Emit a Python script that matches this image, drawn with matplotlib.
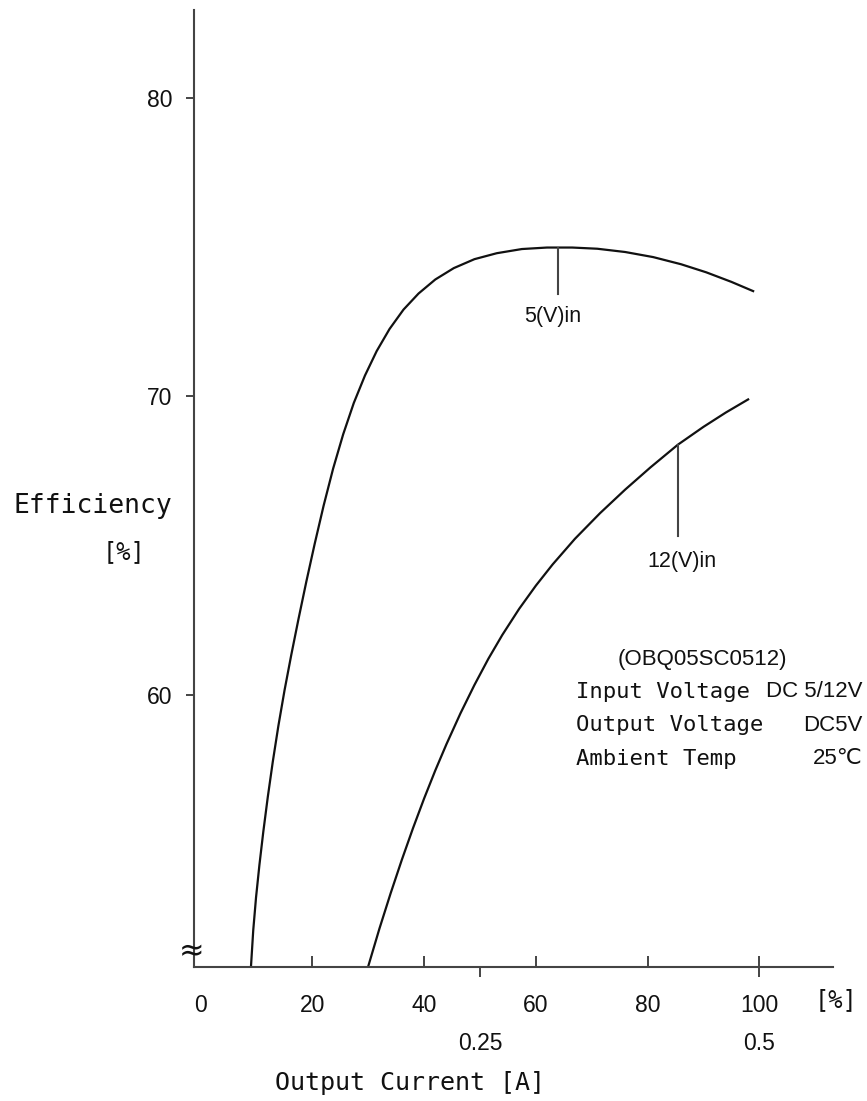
import numpy as np
import matplotlib
matplotlib.use("Agg")
import matplotlib.pyplot as plt
from matplotlib import font_manager

# efficiency curves (x = % of rated output current)
load_5v = [9.0, 9.4, 9.9, 10.5, 11.2, 12.0, 12.9, 13.9, 15.0, 16.2, 17.5, 18.9, 20.4,
           22.0, 23.7, 25.5, 27.4, 29.4, 31.5, 33.8, 36.3, 39.0, 42.0, 45.3, 49.0,
           53.0, 57.5, 62.0, 66.5, 71.0, 76.0, 81.0, 86.0, 90.5, 95.0, 98.9]
eff_5v = [50.9, 52.1, 53.2, 54.28, 55.4, 56.56, 57.75, 58.95, 60.14, 61.32, 62.53,
          63.78, 65.05, 66.33, 67.57, 68.72, 69.77, 70.69, 71.51, 72.25, 72.9, 73.44,
          73.91, 74.29, 74.59, 74.79, 74.93, 74.98, 74.98, 74.94, 74.83, 74.66,
          74.42, 74.15, 73.83, 73.52]

load_12v = [30.0, 32.0, 34.0, 36.0, 38.0, 40.0, 42.0, 44.0, 46.5, 49.0, 51.5, 54.0,
            57.0, 60.0, 63.0, 67.0, 71.5, 76.0, 80.5, 85.4, 90.0, 94.0, 98.0]
eff_12v = [50.9, 52.16, 53.34, 54.46, 55.52, 56.52, 57.46, 58.34, 59.37, 60.32, 61.2,
           62.0, 62.87, 63.65, 64.36, 65.22, 66.08, 66.87, 67.61, 68.37, 68.97,
           69.45, 69.89]

pct_ticks = [0, 20, 40, 60, 80, 100]
amp_ticks = [50, 100]
amp_labels = ["0.25", "0.5"]
eff_ticks = [60, 70, 80]

curve_names = ["5(V)in", "12(V)in"]
marker_x = [64.0, 85.4]

spec_lines = [("Input Voltage", "DC 5/12V"),
              ("Output Voltage", "DC5V"),
              ("Ambient Temp", "25\u2103")]

names = {f.name for f in font_manager.fontManager.ttflist}
NUM_FONT = "Liberation Sans Narrow" if "Liberation Sans Narrow" in names else "Liberation Sans"
num_size = 18 if NUM_FONT.endswith("Narrow") else 16.5
MONO = ["DejaVu Sans Mono", "DejaVu Sans"]
plt.rcParams["font.family"] = [NUM_FONT, "DejaVu Sans"]

ink = "#111111"
axc = "#444444"

fig = plt.figure(figsize=(8.67, 11.01), dpi=100)
ax = fig.add_axes([0.2238, 0.1220, 0.737, 0.8689])

ax.plot(load_5v, eff_5v, color=ink, lw=1.6)
ax.plot(load_12v, eff_12v, color=ink, lw=1.6)

ax.set_xlim(-1.2, 113.2)
ax.set_ylim(50.88, 82.94)

for s in ["top", "right"]:
    ax.spines[s].set_visible(False)
for s in ["left", "bottom"]:
    ax.spines[s].set_color(axc)
    ax.spines[s].set_linewidth(1.5)

ax.set_yticks(eff_ticks)
ax.set_yticklabels([str(v) for v in eff_ticks])
ax.tick_params(axis="y", direction="out", length=5.8, width=1.4, color=axc,
               pad=10, labelsize=num_size, labelcolor=ink)

# percent scale (major) and ampere scale (minor) share the bottom axis
ax.xaxis.remove_overlapping_locs = False
ax.set_xticks(pct_ticks)
ax.set_xticklabels([str(v) for v in pct_ticks])
ax.tick_params(axis="x", which="major", direction="in", length=7.7, width=1.4,
               color=axc, pad=20, labelsize=num_size, labelcolor=ink)
ax.xaxis.get_major_ticks()[0].tick1line.set_visible(False)

ax.set_xticks(amp_ticks, minor=True)
ax.set_xticklabels(amp_labels, minor=True)
ax.tick_params(axis="x", which="minor", direction="out", length=7.2, width=1.4,
               color=axc, pad=40, labelsize=num_size, labelcolor=ink)

# axis break mark
ax.text(-1.6, 51.4, "\u2248", fontsize=22, family="DejaVu Sans", color=ink,
        ha="center", va="center", clip_on=False)

# curve labels with leader lines
drops = [1.55, 3.05]
for mx, xs, ys, d in zip(marker_x, [load_5v, load_12v], [eff_5v, eff_12v], drops):
    top = np.interp(mx, xs, ys)
    ax.plot([mx, mx], [top, top - d], color=axc, lw=1.5)
ax.text(63.0, 72.66, curve_names[0], fontsize=num_size - 1, ha="center", va="center", color=ink)
ax.text(86.1, 64.45, curve_names[1], fontsize=num_size - 1, ha="center", va="center", color=ink)

# spec block
ax.text(89.8, 61.17, "(OBQ05SC0512)", fontsize=num_size - 0.5, ha="center", va="center", color=ink)
for i, (k, v) in enumerate(spec_lines):
    yy = 60.1 - i * 1.13
    ax.text(67.2, yy, k, fontsize=16, family=MONO, ha="left", va="center", color=ink)
    ax.text(118.5, yy, v, fontsize=num_size - 0.5, ha="right", va="center", color=ink,
            clip_on=False)

ax.text(113.7, 49.77, "[%]", fontsize=17, family=MONO, ha="center", va="center",
        color=ink, clip_on=False)

fig.text(92.5 / 867, 1 - 506 / 1101, "Efficiency", fontsize=19, family=MONO,
         ha="center", va="center", color=ink)
fig.text(123.5 / 867, 1 - 552 / 1101, "[%]", fontsize=17, family=MONO,
         ha="center", va="center", color=ink)
fig.text(409.7 / 867, 1 - 1082.7 / 1101, "Output Current [A]", fontsize=18, family=MONO,
         ha="center", va="center", color=ink)

fig.savefig("out.png", dpi=100)
